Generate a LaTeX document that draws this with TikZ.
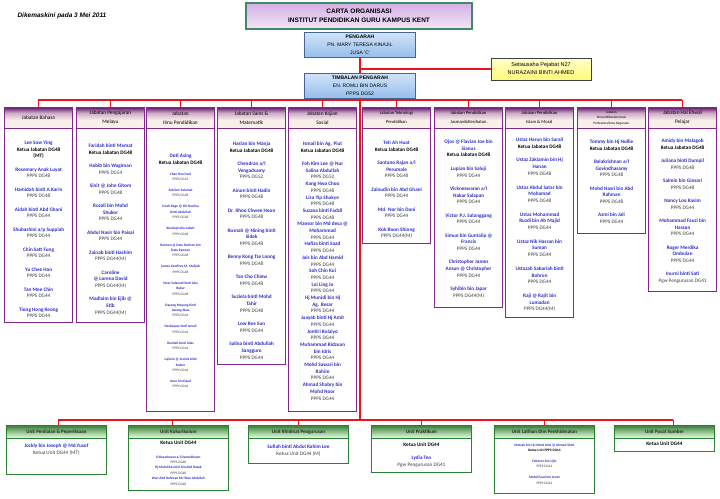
\documentclass[tikz,border=0pt]{standalone}
\usepackage{fontspec}
\setmainfont{Carlito}
\newfontfamily\arialfont{Liberation Sans}
\usetikzlibrary{positioning, calc}

\definecolor{namablue}{RGB}{45,45,200}
\definecolor{postgrey}{RGB}{60,60,60}
\definecolor{jabborder}{RGB}{128,40,140}
\definecolor{jabtop}{RGB}{100,25,110}
\definecolor{jabmid}{RGB}{205,170,200}
\definecolor{jabbot}{RGB}{248,238,234}
\definecolor{unitborder}{RGB}{40,130,50}
\definecolor{unittop}{RGB}{55,125,55}
\definecolor{unitmid}{RGB}{165,210,160}
\definecolor{unitbot}{RGB}{240,250,236}
\definecolor{linered}{RGB}{235,20,30}
\definecolor{titleborder}{RGB}{60,140,100}
\definecolor{titletop}{RGB}{215,175,230}
\definecolor{titlebot}{RGB}{242,230,248}
\definecolor{bossborder}{RGB}{70,100,150}
\definecolor{bosstop}{RGB}{210,228,250}
\definecolor{bossbot}{RGB}{150,190,235}
\definecolor{setiatop}{RGB}{255,255,205}
\definecolor{setiabot}{RGB}{255,250,120}

\pgfdeclareverticalshading{jabshade}{100bp}{color(0bp)=(jabbot); color(25bp)=(jabbot); color(45bp)=(jabbot); color(62bp)=(jabmid); color(75bp)=(jabtop); color(100bp)=(jabtop)}
\pgfdeclareverticalshading{unitshade}{100bp}{color(0bp)=(unitbot); color(25bp)=(unitbot); color(45bp)=(unitmid); color(75bp)=(unittop); color(100bp)=(unittop)}

\newcommand{\nama}[1]{{\color{namablue}\bfseries #1}}
\newcommand{\jwt}[1]{{\color{postgrey}#1}}
\newcommand{\ketua}[1]{{\bfseries #1}}

\tikzset{
	titlebox/.style={draw=titleborder, line width=1.2pt, top color=titletop, bottom color=titlebot, align=center, font=\arialfont\bfseries\fontsize{6.5}{8.5}\selectfont},
	bossbox/.style={draw=bossborder, line width=0.8pt, top color=bosstop, bottom color=bossbot, align=center, minimum width=111pt, minimum height=25pt, inner sep=1pt, font=\arialfont\fontsize{5}{8}\selectfont},
	setiabox/.style={draw=black!75, line width=0.8pt, top color=setiatop, bottom color=setiabot, align=center, minimum width=100pt, minimum height=22pt, font=\arialfont\fontsize{5.5}{8}\selectfont},
	% jabatan columns
	jabhead/.style={draw=jabborder, line width=0.8pt, shading=jabshade, minimum width=68pt, minimum height=21pt, inner sep=1pt, align=center, text=black, font=\fontsize{5.3}{9}\selectfont},
	jabbody/.style={draw=jabborder, line width=1.2pt, fill=white, minimum width=68pt, anchor=north west},
	namelist/.style={align=center, inner sep=0pt, font=\fontsize{5.2}{6.7}\selectfont},
	smalllist/.style={align=center, inner sep=0pt, font=\fontsize{3.5}{5.4}\selectfont},
	% unit boxes
	unithead/.style={draw=unitborder, line width=0.8pt, shading=unitshade, minimum width=100pt, minimum height=13pt, inner sep=1pt, anchor=north west, text=black!85, font=\bfseries\fontsize{5}{6}\selectfont},
	unitbody/.style={draw=unitborder, line width=0.8pt, fill=white, minimum width=100pt, anchor=north west},
}

\begin{document}
\begin{tikzpicture}[x=1pt, y=-1pt]
	\useasboundingbox (0,0) rectangle (720,498);
	
	\node (tarikh) [anchor=west, font=\arialfont\bfseries\itshape\fontsize{6.5}{8}\selectfont] at (14,16) {Dikemaskini pada 3 Mei 2011};
	\node (judul) [titlebox, minimum width=226pt, minimum height=26pt] at (359,16) {CARTA ORGANISASI\\INSTITUT PENDIDIKAN GURU KAMPUS KENT};
	\node (pengarah) [bossbox] at (360,44.5) {\textbf{PENGARAH}\\PN. MARY TERESA KINAJIL\\JUSA 'C'};
	\node (setia) [setiabox] at (541,69) {Setiausaha Pejabat N27\\NURAZAINI BINTI AHMED};
	\node (timbalan) [bossbox] at (360,85.5) {\textbf{TIMBALAN PENGARAH}\\EN. ROMLI BIN DARUS\\PPPS DG52};
	
	\coordinate (busAtas) at (360,100);
	\coordinate (busBawah) at (360,420);
	
	% jabatan headers
	\node (hBahasa) [jabhead, anchor=north west] at (4,107) {Jabatan Bahasa};
	\node (hMelayu) [jabhead, anchor=north west] at (76,107) {Jabatan Pengajaran\\Melayu};
	\node (hIlmu) [jabhead, anchor=north west] at (146,107) {Jabatan\\Ilmu Pendidikan};
	\node (hSains) [jabhead, anchor=north west] at (217,107) {Jabatan Sains \&\\Matematik};
	\node (hSosial) [jabhead, anchor=north west] at (288,107) {Jabatan Kajian\\Sosial};
	\node (hTeknologi) [jabhead, anchor=north west, font=\fontsize{4.6}{9}\selectfont] at (362,107) {Jabatan Teknologi\\Pendidikan};
	\node (hJasmani) [jabhead, anchor=north west, font=\fontsize{4.6}{9}\selectfont] at (434,107) {Jabatan Pendidikan\\Jasmani\&Kesihatan};
	\node (hIslam) [jabhead, anchor=north west, font=\fontsize{4.6}{9}\selectfont] at (505,107) {Jabatan Pendidikan\\Islam \& Moral};
	\node (hPenyelidikan) [jabhead, anchor=north west, font=\fontsize{3.4}{5.5}\selectfont] at (577,107) {Jabatan\\Penyelidikan\&Inovasi\\Profesionalisme Keguruan};
	\node (hHep) [jabhead, anchor=north west] at (648,107) {Jabatan Hal Ehwal\\Pelajar};
	
	% jabatan bodies
	\node (bBahasa) [jabbody, minimum height=194pt] at (4,128) {};
	\node (bMelayu) [jabbody, minimum height=194pt] at (76,128) {};
	\node (bIlmu) [jabbody, minimum height=283pt] at (146,128) {};
	\node (bSains) [jabbody, minimum height=236pt] at (217,128) {};
	\node (bSosial) [jabbody, minimum height=283pt] at (288,128) {};
	\node (bTeknologi) [jabbody, minimum height=115pt] at (362,128) {};
	\node (bJasmani) [jabbody, minimum height=179pt] at (434,128) {};
	\node (bIslam) [jabbody, minimum height=189pt] at (505,128) {};
	\node (bPenyelidikan) [jabbody, minimum height=105pt] at (577,128) {};
	\node (bHep) [jabbody, minimum height=163pt] at (648,128) {};
	
	\node (tBahasa) [namelist, below=12.7pt of bBahasa.north] {\nama{Lee Sow Ying}\\ \ketua{Ketua Jabatan DG48}\\ \ketua{(MT)}\\[6.6pt]
		\nama{Rosemary Anak Luyat}\\ \jwt{PPPS DG48}\\[6.6pt]
		\nama{Hamidah binti A.Karin}\\ \jwt{PPPS DG48}\\[6.6pt]
		\nama{Aidah binti Abd Ghani}\\ \jwt{PPPS DG44}\\[6.6pt]
		\nama{Shubashini a/p Suppiah}\\ \jwt{PPPS DG44}\\[6.6pt]
		\nama{Chin Satt Fung}\\ \jwt{PPPS DG44}\\[6.6pt]
		\nama{Yu Chee Han}\\ \jwt{PPPS DG44}\\[6.6pt]
		\nama{Tan Mee Chin}\\ \jwt{PPPS DG44}\\[6.6pt]
		\nama{Tiong Hong Keong}\\ \jwt{PPPS DG44}};
	
	\node (tMelayu) [namelist, below=15.7pt of bMelayu.north] {\nama{Faridah binti Mamat}\\ \ketua{Ketua Jabatan DG48}\\[6.6pt]
		\nama{Habib bin Wagiman}\\ \jwt{PPPS DG54}\\[6.6pt]
		\nama{Sinit @ John Gitom}\\ \jwt{PPPS DG48}\\[6.6pt]
		\nama{Rozali bin Mohd}\\ \nama{Shukor}\\ \jwt{PPPS DG44}\\[6.6pt]
		\nama{Abdul Nasir bin Paisal}\\ \jwt{PPPS DG44}\\[6.6pt]
		\nama{Zainab binti Hashim}\\ \jwt{PPPS DG44(M)}\\[6.6pt]
		\nama{Caroline}\\ \nama{@ Lorena David}\\ \jwt{PPPS DG44(M)}\\[6.6pt]
		\nama{Madlaim bin Ejib @}\\ \nama{Etib}\\ \jwt{PPPS DG44(M)}};
	
	\node (tIlmuKetua) [namelist, below=25.7pt of bIlmu.north] {\nama{Doti Asing}\\ \ketua{Ketua Jabatan DG48}};
	\node (tIlmu) [smalllist, below=44.5pt of bIlmu.north] {\nama{Chan Heu Fock}\\ \jwt{PPPS DG52}\\[5.6pt]
		\nama{Azki bin Selamat}\\ \jwt{PPPS DG48}\\[5.6pt]
		\nama{Linah Bagu @ Siti Nurlina}\\ \nama{binti Abdullah}\\ \jwt{PPPS DG48}\\[5.6pt]
		\nama{Kundayis bin Labeh}\\ \jwt{PPPS DG48}\\[5.6pt]
		\nama{Raimon @ Datu Raimon bin}\\ \nama{Datu Raonan}\\ \jwt{PPPS DG48}\\[5.6pt]
		\nama{James Geoffrey M. Malijah}\\ \jwt{PPPS DG48}\\[5.6pt]
		\nama{Noor Salawati binti Abu}\\ \nama{Bakar}\\ \jwt{PPPS DG48}\\[5.6pt]
		\nama{Dayang Mayang binti}\\ \nama{Awang Akas}\\ \jwt{PPPS DG44}\\[5.6pt]
		\nama{Norhayaty binti Ismail}\\ \jwt{PPPS DG44}\\[5.6pt]
		\nama{Rumlah binti Alias}\\ \jwt{PPPS DG44}\\[5.6pt]
		\nama{Lajiwin @ Jovinis binti}\\ \nama{Kadun}\\ \jwt{PPPS DG44}\\[5.6pt]
		\nama{Arun bin Daud}\\ \jwt{PPPS DG44}};
	
	\node (tSains) [namelist, below=13.7pt of bSains.north] {\nama{Haslan bin Manja}\\ \ketua{Ketua Jabatan DG48}\\[6.6pt]
		\nama{Chendran a/l}\\ \nama{Vengadsamy}\\ \jwt{PPPS DG52}\\[6.6pt]
		\nama{Ainon binti Hadin}\\ \jwt{PPPS DG48}\\[6.6pt]
		\nama{Dr. Khoo Chwee Hoon}\\ \jwt{PPPS DG48}\\[6.6pt]
		\nama{Rosnah @ Nining binti}\\ \nama{Sidek}\\ \jwt{PPPS DG48}\\[6.6pt]
		\nama{Benny Kong Tze Loong}\\ \jwt{PPPS DG48}\\[6.6pt]
		\nama{Tan Cho Chiew}\\ \jwt{PPPS DG48}\\[6.6pt]
		\nama{Suziela binti Mohd}\\ \nama{Tahir}\\ \jwt{PPPS DG48}\\[6.6pt]
		\nama{Low Kee Sun}\\ \jwt{PPPS DG44}\\[6.6pt]
		\nama{Salina binti Abdullah}\\ \nama{Sangguro}\\ \jwt{PPPS DG44}};
	
	\node (tSosial) [namelist, below=13.7pt of bSosial.north] {\nama{Ismail bin Ag. Piut}\\ \ketua{Ketua Jabatan DG48}\\[6.6pt]
		\nama{Foh Kim Lee @ Nur}\\ \nama{Salina Abdullah}\\ \jwt{PPPS DG52}\\
		\nama{Kang Hwa Choo}\\ \jwt{PPPS DG48}\\
		\nama{Lisa Yip Shukye}\\ \jwt{PPPS DG48}\\
		\nama{Suzana binti Fadzil}\\ \jwt{PPPS DG48}\\
		\nama{Mansor bin Md desa @}\\ \nama{Mohammad}\\ \jwt{PPPS DG44}\\
		\nama{Hafiza binti Saad}\\ \jwt{PPPS DG44}\\
		\nama{Jais bin Abd Hamid}\\ \jwt{PPPS DG44}\\
		\nama{Soh Chin Kui}\\ \jwt{PPPS DG44}\\
		\nama{Loi Ling Jo}\\ \jwt{PPPS DG44}\\
		\nama{Hj Munidi bin Hj}\\ \nama{Ag. Besar}\\ \jwt{PPPS DG44}\\
		\nama{Juayah binti Hj Amit}\\ \jwt{PPPS DG44}\\
		\nama{Jontiri Kolaiyo}\\ \jwt{PPPS DG44}\\
		\nama{Muhammad Ridzuan}\\ \nama{bin Idris}\\ \jwt{PPPS DG44}\\
		\nama{Mohd Sawari bin}\\ \nama{Rahim}\\ \jwt{PPPS DG44}\\
		\nama{Ahmad Shabry bin}\\ \nama{Mohd Noor}\\ \jwt{PPPS DG44}};
	
	\node (tTeknologi) [namelist, below=12.7pt of bTeknologi.north] {\nama{Teh Ah Huat}\\ \ketua{Ketua Jabatan DG48}\\[6.6pt]
		\nama{Santano Rajan a/l}\\ \nama{Perumale}\\ \jwt{PPPS DG48}\\[6.6pt]
		\nama{Zainudin bin Abd Ghani}\\ \jwt{PPPS DG44}\\[6.6pt]
		\nama{Md. Nor bin Dani}\\ \jwt{PPPS DG44}\\[6.6pt]
		\nama{Kok Boon Shiong}\\ \jwt{PPPS DG44(M)}};
	
	\node (tJasmani) [namelist, below=11.7pt of bJasmani.north] {\nama{Ojos @ Flavian Joe bin}\\ \nama{Sianus}\\ \ketua{Ketua Jabatan DG48}\\[6.9pt]
		\nama{Lupian bin Saluji}\\ \jwt{PPPS DG44}\\[6.6pt]
		\nama{Vickneswaran a/l}\\ \nama{Nakar Salapan}\\ \jwt{PPPS DG44}\\[6.6pt]
		\nama{Victor P.J. Salanggang}\\ \jwt{PPPS DG44}\\[6.6pt]
		\nama{Simun bin Guntalip @}\\ \nama{Francis}\\ \jwt{PPPS DG44}\\[6.6pt]
		\nama{Christopher James}\\ \nama{Ansun @ Christopher}\\ \jwt{PPPS DG44}\\[6.6pt]
		\nama{Syhibin bin Japar}\\ \jwt{PPPS DG44(M)}};
	
	\node (tIslam) [namelist, below=9.7pt of bIslam.north] {\nama{Ustaz Harun bin Sarail}\\ \ketua{Ketua Jabatan DG48}\\[7pt]
		\nama{Ustaz Zakiamin bin Hj}\\ \nama{Hanan}\\ \jwt{PPPS DG48}\\[7pt]
		\nama{Ustaz Abdul Satar bin}\\ \nama{Mohamad}\\ \jwt{PPPS DG48}\\[7pt]
		\nama{Ustaz Mohammad}\\ \nama{Ruzdi bin Ab Majid}\\ \jwt{PPPS DG44}\\[7pt]
		\nama{Ustaz Nik Hassan bin}\\ \nama{Suman}\\ \jwt{PPPS DG44}\\[7pt]
		\nama{Ustazah Sabariah binti}\\ \nama{Bohrun}\\ \jwt{PPPS DG44}\\[7pt]
		\nama{Raji @ Rajit bin}\\ \nama{Lumadan}\\ \jwt{PPPS DG44(M)}};
	
	\node (tPenyelidikan) [namelist, below=11.7pt of bPenyelidikan.north] {\nama{Tommy bin Hj Nollie}\\ \ketua{Ketua Jabatan DG48}\\[6.6pt]
		\nama{Balakrishnan a/l}\\ \nama{Govindhasamy}\\ \jwt{PPPS DG48}\\[6.6pt]
		\nama{Mohd Nasri bin Abd}\\ \nama{Rahman}\\ \jwt{PPPS DG48}\\[6.6pt]
		\nama{Azmi bin Jali}\\ \jwt{PPPS DG44}};
	
	\node (tHep) [namelist, below=10.7pt of bHep.north] {\nama{Amidy bin Malagob}\\ \ketua{Ketua Jabatan DG48}\\[6.6pt]
		\nama{Juliana binti Dumpil}\\ \jwt{PPPS DG48}\\[6.6pt]
		\nama{Salmin bin Ginsari}\\ \jwt{PPPS DG48}\\[6.6pt]
		\nama{Nancy Loo Kasim}\\ \jwt{PPPS DG44}\\[6.6pt]
		\nama{Mohammad Fauzi bin}\\ \nama{Hassan}\\ \jwt{PPPS DG44}\\[6.6pt]
		\nama{Roger Merdika}\\ \nama{Ombulan}\\ \jwt{PPPS DG44}\\[6.6pt]
		\nama{Inurni binti Sati}\\ \jwt{Pgw Pengurusan DG41}};
	
	% units
	\node (uPenilaian) [unithead] at (6,425) {Unit Penilaian \& Peperiksaan};
	\node (uKoku) [unithead] at (128,425) {Unit Kokurikulum};
	\node (uKhidmat) [unithead] at (248,425) {Unit Khidmat Pengurusan};
	\node (uPraktikum) [unithead] at (371,425) {Unit Praktikum};
	\node (uLatihan) [unithead] at (494,425) {Unit Latihan Dlm Perkhidmatan};
	\node (uPusat) [unithead] at (614,425) {Unit Pusat Sumber};
	
	\node (ubPenilaian) [unitbody, minimum height=36pt] at (6,438) {};
	\node (ubKoku) [unitbody, minimum height=52pt] at (128,438) {};
	\node (ubKhidmat) [unitbody, minimum height=25pt] at (248,438) {};
	\node (ubPraktikum) [unitbody, minimum height=34pt] at (371,438) {};
	\node (ubLatihan) [unitbody, minimum height=55pt] at (494,438) {};
	\node (ubPusat) [unitbody, minimum height=13pt] at (614,438) {};
	
	\node (tPenilaian) [namelist, below=6pt of ubPenilaian.north] {\nama{Jockly bin Joseph @ Md.Yusof}\\ \jwt{Ketua Unit DG44 (MT)}};
	\node (tKokuKetua) [namelist, below=3pt of ubKoku.north] {\ketua{Ketua Unit DG44}};
	\node (tKoku) [smalllist, below=17.5pt of ubKoku.north] {\nama{D.Kasarhasan a/l Damodharan}\\ \jwt{PPPS DG48}\\
		\nama{Hj.Mohd Rasmini bin Abd Razak}\\ \jwt{PPPS DG48}\\
		\nama{Wan Abd Rahman bin Wan Abdullah}\\ \jwt{PPPS DG48}};
	\node (tKhidmat) [namelist, below=7pt of ubKhidmat.north] {\nama{Sufiah binti Abdul Rahim Lee}\\ \jwt{Ketua Unit DG44 (M)}};
	\node (tPraktikum) [namelist, below=5pt of ubPraktikum.north] {\ketua{Ketua Unit DG44}\\[6pt]
		\nama{Lydia Teo}\\ \jwt{Pgw Pengurusan DG41}};
	\node (tLatihan) [smalllist, below=5.5pt of ubLatihan.north] {\nama{Matsah bin Hj.Mohd Idris @ Ahmad Shah}\\ \ketua{Ketua Unit PPPS DG44}\\[5.6pt]
		\nama{Felteron bin Ujin}\\ \jwt{PPPS DG44}\\[5.6pt]
		\nama{Mohd Fauzi bin Awat}\\ \jwt{PPPS DG44}};
	\node (tPusat) [namelist, below=4pt of ubPusat.north] {\ketua{Ketua Unit DG44}};
	
	\begin{scope}[draw=linered, line width=1.3pt]
		\draw (pengarah.south) -- (timbalan.north);
		\draw (pengarah.south |- setia.west) -- (setia.west);
		\draw (timbalan.south) -- (busBawah);
		\draw (hBahasa.north |- busAtas) -- (hHep.north |- busAtas);
		\foreach \j in {hBahasa, hMelayu, hIlmu, hSains, hSosial, hTeknologi, hJasmani, hIslam, hPenyelidikan, hHep}
			\draw (\j.north) -- (\j.north |- busAtas);
		
		\draw ([xshift=2pt]uPenilaian.north |- busBawah) -- ([xshift=9pt]uPusat.north |- busBawah);
		\draw ([xshift=2pt]uPenilaian.north) -- ([xshift=2pt]uPenilaian.north |- busBawah);
		\draw ([xshift=-6pt]uKoku.north) -- ([xshift=-6pt]uKoku.north |- busBawah);
		\draw (uKhidmat.north) -- (uKhidmat.north |- busBawah);
		\draw (uPraktikum.north) -- (uPraktikum.north |- busBawah);
		\draw (uLatihan.north) -- (uLatihan.north |- busBawah);
		\draw ([xshift=9pt]uPusat.north) -- ([xshift=9pt]uPusat.north |- busBawah);
	\end{scope}
\end{tikzpicture}
\end{document}
